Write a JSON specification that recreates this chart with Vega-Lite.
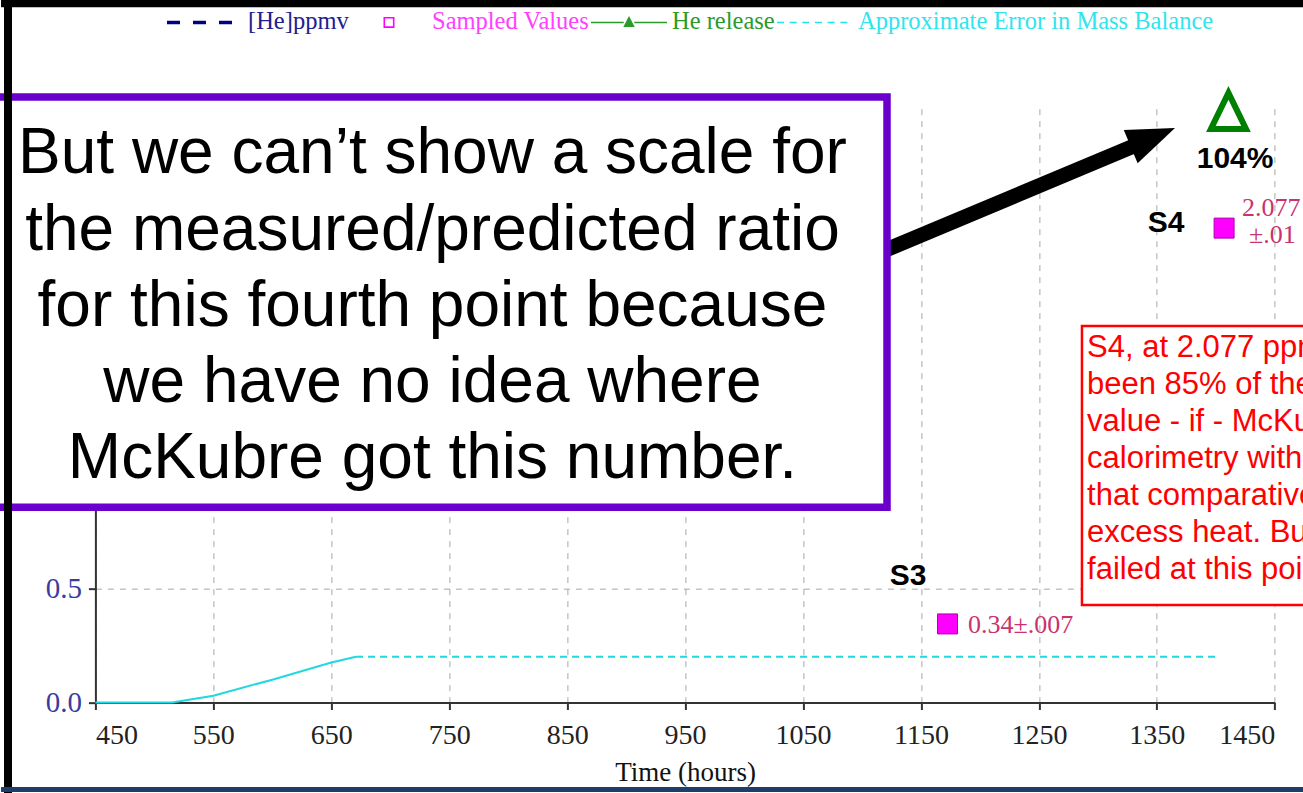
{
  "$schema": "https://vega.github.io/schema/vega-lite/v6.json",
  "autosize": "none",
  "width": 1179.4,
  "height": 593.84,
  "padding": {"left": 95.4, "top": 108.66, "right": 28.2, "bottom": 90.5},
  "background": "white",
  "config": {"view": {"stroke": null}, "font": "Liberation Serif",
    "legend": {"orient": "none", "direction": "horizontal", "title": null, "symbolSize": 5776, "symbolOpacity": 1, "symbolStrokeWidth": 0,
      "labelFont": "Liberation Serif", "labelFontSize": 24.5, "labelOffset": 5, "padding": 0, "labelLimit": 0}},
  "resolve": {"scale": {"shape": "independent"}, "legend": {"shape": "independent"}},
  "datasets": {
    "keys": [
      {"series": "[He]ppmv"},
      {"series": "Sampled Values"},
      {"series": "He release"},
      {"series": "Approximate Error in Mass Balance"}
    ],
    "err": [
      {"hours": 450, "ppmv": 0, "part": "ramp"},
      {"hours": 515, "ppmv": 0, "part": "ramp"},
      {"hours": 550, "ppmv": 0.03, "part": "ramp"},
      {"hours": 600, "ppmv": 0.1, "part": "ramp"},
      {"hours": 650, "ppmv": 0.175, "part": "ramp"},
      {"hours": 671, "ppmv": 0.2, "part": "ramp"},
      {"hours": 671, "ppmv": 0.2, "part": "flat"},
      {"hours": 1403, "ppmv": 0.2, "part": "flat"}
    ],
    "samples": [
      {"hours": 1172.5, "ppmv": 0.344, "sample": "S3"},
      {"hours": 1407, "ppmv": 2.077, "sample": "S4"}
    ],
    "release": [
      {"hours": 1410.7, "ppmv": 2.588}
    ],
    "arrow": [
      {"hours": 1047.4, "ppmv": 1.824},
      {"hours": 1341.9, "ppmv": 2.461}
    ],
    "arrowhead": [
      {"hours": 1365.4, "ppmv": 2.515}
    ],
    "boxes": [
      {"box": "note", "hours": 360.6, "hours2": 1121.2, "ppmv": 0.855, "ppmv2": 2.651},
      {"box": "red", "hours": 1286.5, "hours2": 1500, "ppmv": 0.427, "ppmv2": 1.648}
    ],
    "note": [
      {"hours": 735.8, "ppmv": 2.317, "text": "But we can’t show a scale for\nthe measured/predicted ratio\nfor this fourth point because\nwe have no idea where\nMcKubre got this number."}
    ],
    "rednote": [
      {"hours": 1290.8, "ppmv": 1.514, "text": "S4, at 2.077 ppm\nbeen 85% of the\nvalue - if - McKubre\ncalorimetry with\nthat comparative\nexcess heat. But\nfailed at this point"}
    ],
    "boldlabels": [
      {"hours": 1139, "ppmv": 0.554, "text": "S3"},
      {"hours": 1357.8, "ppmv": 2.1, "text": "S4"},
      {"hours": 1416.3, "ppmv": 2.38, "text": "104%"}
    ],
    "valuelabels": [
      {"hours": 1189.9, "ppmv": 0.339, "text": "0.34±.007"},
      {"hours": 1422.2, "ppmv": 2.167, "text": "2.077"},
      {"hours": 1428.1, "ppmv": 2.047, "text": "±.01"}
    ],
    "frame": [
      {"edge": "left", "hours": 375.9, "hours2": 375.9, "ppmv": 3.2, "ppmv2": -0.45},
      {"edge": "top", "hours": 370, "hours2": 1500, "ppmv": 3.061, "ppmv2": 3.061},
      {"edge": "bottom", "hours": 370, "hours2": 1500, "ppmv": -0.381, "ppmv2": -0.381}
    ]
  },
  "layer": [
    {
      "data": {"name": "err"},
      "transform": [{"filter": "datum.part === 'ramp'"}],
      "mark": {"type": "line", "color": "#1fd8e0", "strokeWidth": 2},
      "encoding": {
        "x": {"field": "hours", "type": "quantitative", "title": "Time (hours)",
          "scale": {"domain": [450, 1450], "nice": false, "zero": false},
          "axis": {"values": [450, 550, 650, 750, 850, 950, 1050, 1150, 1250, 1350, 1450], "format": "d",
            "labelFont": "Liberation Serif", "labelFontSize": 28, "labelColor": "#222222", "labelPadding": 12,
            "tickSize": 7, "tickColor": "#333333", "tickWidth": 2, "domainColor": "#333333", "domainWidth": 2,
            "grid": true, "gridColor": "#a8a8a8", "gridDash": [6, 6], "gridWidth": 1,
            "titleFont": "Liberation Serif", "titleFontSize": 27, "titleFontWeight": "normal", "titleColor": "#111111", "titlePadding": 10}},
        "y": {"field": "ppmv", "type": "quantitative", "title": null,
          "scale": {"domain": [0, 2.6], "nice": false, "zero": false},
          "axis": {"values": [0, 0.5], "format": ".1f",
            "labelFont": "Liberation Serif", "labelFontSize": 29, "labelColor": "#3c3ca0", "labelPadding": 7,
            "tickSize": 7, "tickColor": "#333333", "tickWidth": 2, "domainColor": "#333333", "domainWidth": 2,
            "grid": true, "gridColor": "#a8a8a8", "gridDash": [6, 6], "gridWidth": 1}}
      }
    },
    {
      "data": {"name": "err"},
      "transform": [{"filter": "datum.part === 'flat'"}],
      "mark": {"type": "line", "color": "#1fd8e0", "strokeWidth": 2, "strokeDash": [7, 5]},
      "encoding": {
        "x": {"field": "hours", "type": "quantitative"},
        "y": {"field": "ppmv", "type": "quantitative"}
      }
    },
    {
      "data": {"name": "keys"},
      "transform": [{"filter": "datum.series === '[He]ppmv'"}],
      "mark": {"type": "point", "filled": true, "opacity": 0, "color": "#000080"},
      "encoding": {
        "shape": {"field": "series", "type": "nominal",
          "scale": {"range": ["M-1,-0.046H-0.658V0.046H-1Z M-0.316,-0.046H0.026V0.046H-0.316Z M0.368,-0.046H0.71V0.046H0.368Z"]},
          "legend": {"legendX": 71.6, "legendY": -124.2, "labelColor": "#202090"}}
      }
    },
    {
      "data": {"name": "keys"},
      "transform": [{"filter": "datum.series === 'Sampled Values'"}],
      "mark": {"type": "point", "filled": true, "opacity": 0, "color": "#ff00ff"},
      "encoding": {
        "shape": {"field": "series", "type": "nominal",
          "scale": {"range": ["M-0.145,-0.145H0.145V0.145H-0.145Z M-0.103,-0.103V0.103H0.103V-0.103Z"]},
          "legend": {"legendX": 255.6, "legendY": -124.2, "labelColor": "#ff40ff"}}
      }
    },
    {
      "data": {"name": "keys"},
      "transform": [{"filter": "datum.series === 'He release'"}],
      "mark": {"type": "point", "filled": true, "opacity": 0, "color": "#2a9a2a"},
      "encoding": {
        "shape": {"field": "series", "type": "nominal",
          "scale": {"range": ["M-1,-0.02H-0.14V0.02H-1Z M0.14,-0.02H1V0.02H0.14Z M0,-0.17L0.15,0.12H-0.15Z"]},
          "legend": {"legendX": 495.6, "legendY": -124.2, "labelColor": "#2a9a2a"}}
      }
    },
    {
      "data": {"name": "keys"},
      "transform": [{"filter": "datum.series === 'Approximate Error in Mass Balance'"}],
      "mark": {"type": "point", "filled": true, "opacity": 0, "color": "#22e2ec"},
      "encoding": {
        "shape": {"field": "series", "type": "nominal",
          "scale": {"range": ["M-1,-0.021H-0.816V0.021H-1Z M-0.667,-0.021H-0.483V0.021H-0.667Z M-0.333,-0.021H-0.149V0.021H-0.333Z M0,-0.021H0.184V0.021H0Z M0.333,-0.021H0.517V0.021H0.333Z M0.667,-0.021H0.851V0.021H0.667Z"]},
          "legend": {"legendX": 681.6, "legendY": -124.2, "labelColor": "#30e4ee"}}
      }
    },
    {
      "data": {"name": "samples"},
      "mark": {"type": "point", "shape": "square", "filled": true, "size": 400, "color": "#ff00ff", "stroke": "#b000b0", "strokeWidth": 1, "opacity": 1},
      "encoding": {
        "x": {"field": "hours", "type": "quantitative"},
        "y": {"field": "ppmv", "type": "quantitative"}
      }
    },
    {
      "data": {"name": "arrow"},
      "mark": {"type": "line", "color": "black", "strokeWidth": 15, "strokeCap": "butt"},
      "encoding": {
        "x": {"field": "hours", "type": "quantitative"},
        "y": {"field": "ppmv", "type": "quantitative"}
      }
    },
    {
      "data": {"name": "arrowhead"},
      "mark": {"type": "point", "shape": "M0,0L-0.75,2L0.75,2Z", "size": 2304, "angle": 67.4, "filled": true, "color": "black", "opacity": 1},
      "encoding": {
        "x": {"field": "hours", "type": "quantitative"},
        "y": {"field": "ppmv", "type": "quantitative"}
      }
    },
    {
      "data": {"name": "boxes"},
      "transform": [{"filter": "datum.box === 'note'"}],
      "mark": {"type": "rect", "fill": "white", "stroke": "#6a00cc", "strokeWidth": 7.5},
      "encoding": {
        "x": {"field": "hours", "type": "quantitative"},
        "x2": {"field": "hours2"},
        "y": {"field": "ppmv", "type": "quantitative"},
        "y2": {"field": "ppmv2"}
      }
    },
    {
      "data": {"name": "note"},
      "mark": {"type": "text", "font": "Liberation Sans", "fontSize": 64, "lineHeight": 76.3, "lineBreak": "\n", "align": "center", "baseline": "alphabetic", "color": "black"},
      "encoding": {
        "x": {"field": "hours", "type": "quantitative"},
        "y": {"field": "ppmv", "type": "quantitative"},
        "text": {"field": "text"}
      }
    },
    {
      "data": {"name": "boxes"},
      "transform": [{"filter": "datum.box === 'red'"}],
      "mark": {"type": "rect", "fill": "white", "stroke": "#ff0000", "strokeWidth": 2.5},
      "encoding": {
        "x": {"field": "hours", "type": "quantitative"},
        "x2": {"field": "hours2"},
        "y": {"field": "ppmv", "type": "quantitative"},
        "y2": {"field": "ppmv2"}
      }
    },
    {
      "data": {"name": "rednote"},
      "mark": {"type": "text", "font": "Liberation Sans", "fontSize": 31, "lineHeight": 37, "lineBreak": "\n", "align": "left", "baseline": "alphabetic", "color": "#ff0000"},
      "encoding": {
        "x": {"field": "hours", "type": "quantitative"},
        "y": {"field": "ppmv", "type": "quantitative"},
        "text": {"field": "text"}
      }
    },
    {
      "data": {"name": "boldlabels"},
      "mark": {"type": "text", "font": "Liberation Sans", "fontSize": 30, "fontWeight": "bold", "align": "center", "baseline": "middle", "color": "black"},
      "encoding": {
        "x": {"field": "hours", "type": "quantitative"},
        "y": {"field": "ppmv", "type": "quantitative"},
        "text": {"field": "text"}
      }
    },
    {
      "data": {"name": "valuelabels"},
      "mark": {"type": "text", "font": "Liberation Serif", "fontSize": 26, "align": "left", "baseline": "middle", "color": "#c8336e"},
      "encoding": {
        "x": {"field": "hours", "type": "quantitative"},
        "y": {"field": "ppmv", "type": "quantitative"},
        "text": {"field": "text"}
      }
    },
    {
      "data": {"name": "release"},
      "mark": {"type": "point", "shape": "M0,-1L0.95,0.95L-0.95,0.95Z", "size": 1369, "filled": false, "stroke": "#008000", "strokeWidth": 6, "opacity": 1},
      "encoding": {
        "x": {"field": "hours", "type": "quantitative"},
        "y": {"field": "ppmv", "type": "quantitative"}
      }
    },
    {
      "data": {"name": "frame"},
      "transform": [{"filter": "datum.edge !== 'bottom'"}],
      "mark": {"type": "rule", "color": "black", "strokeWidth": 8},
      "encoding": {
        "x": {"field": "hours", "type": "quantitative"},
        "x2": {"field": "hours2"},
        "y": {"field": "ppmv", "type": "quantitative"},
        "y2": {"field": "ppmv2"}
      }
    },
    {
      "data": {"name": "frame"},
      "transform": [{"filter": "datum.edge === 'bottom'"}],
      "mark": {"type": "rule", "color": "#1f3d6b", "strokeWidth": 5},
      "encoding": {
        "x": {"field": "hours", "type": "quantitative"},
        "x2": {"field": "hours2"},
        "y": {"field": "ppmv", "type": "quantitative"},
        "y2": {"field": "ppmv2"}
      }
    }
  ]
}
